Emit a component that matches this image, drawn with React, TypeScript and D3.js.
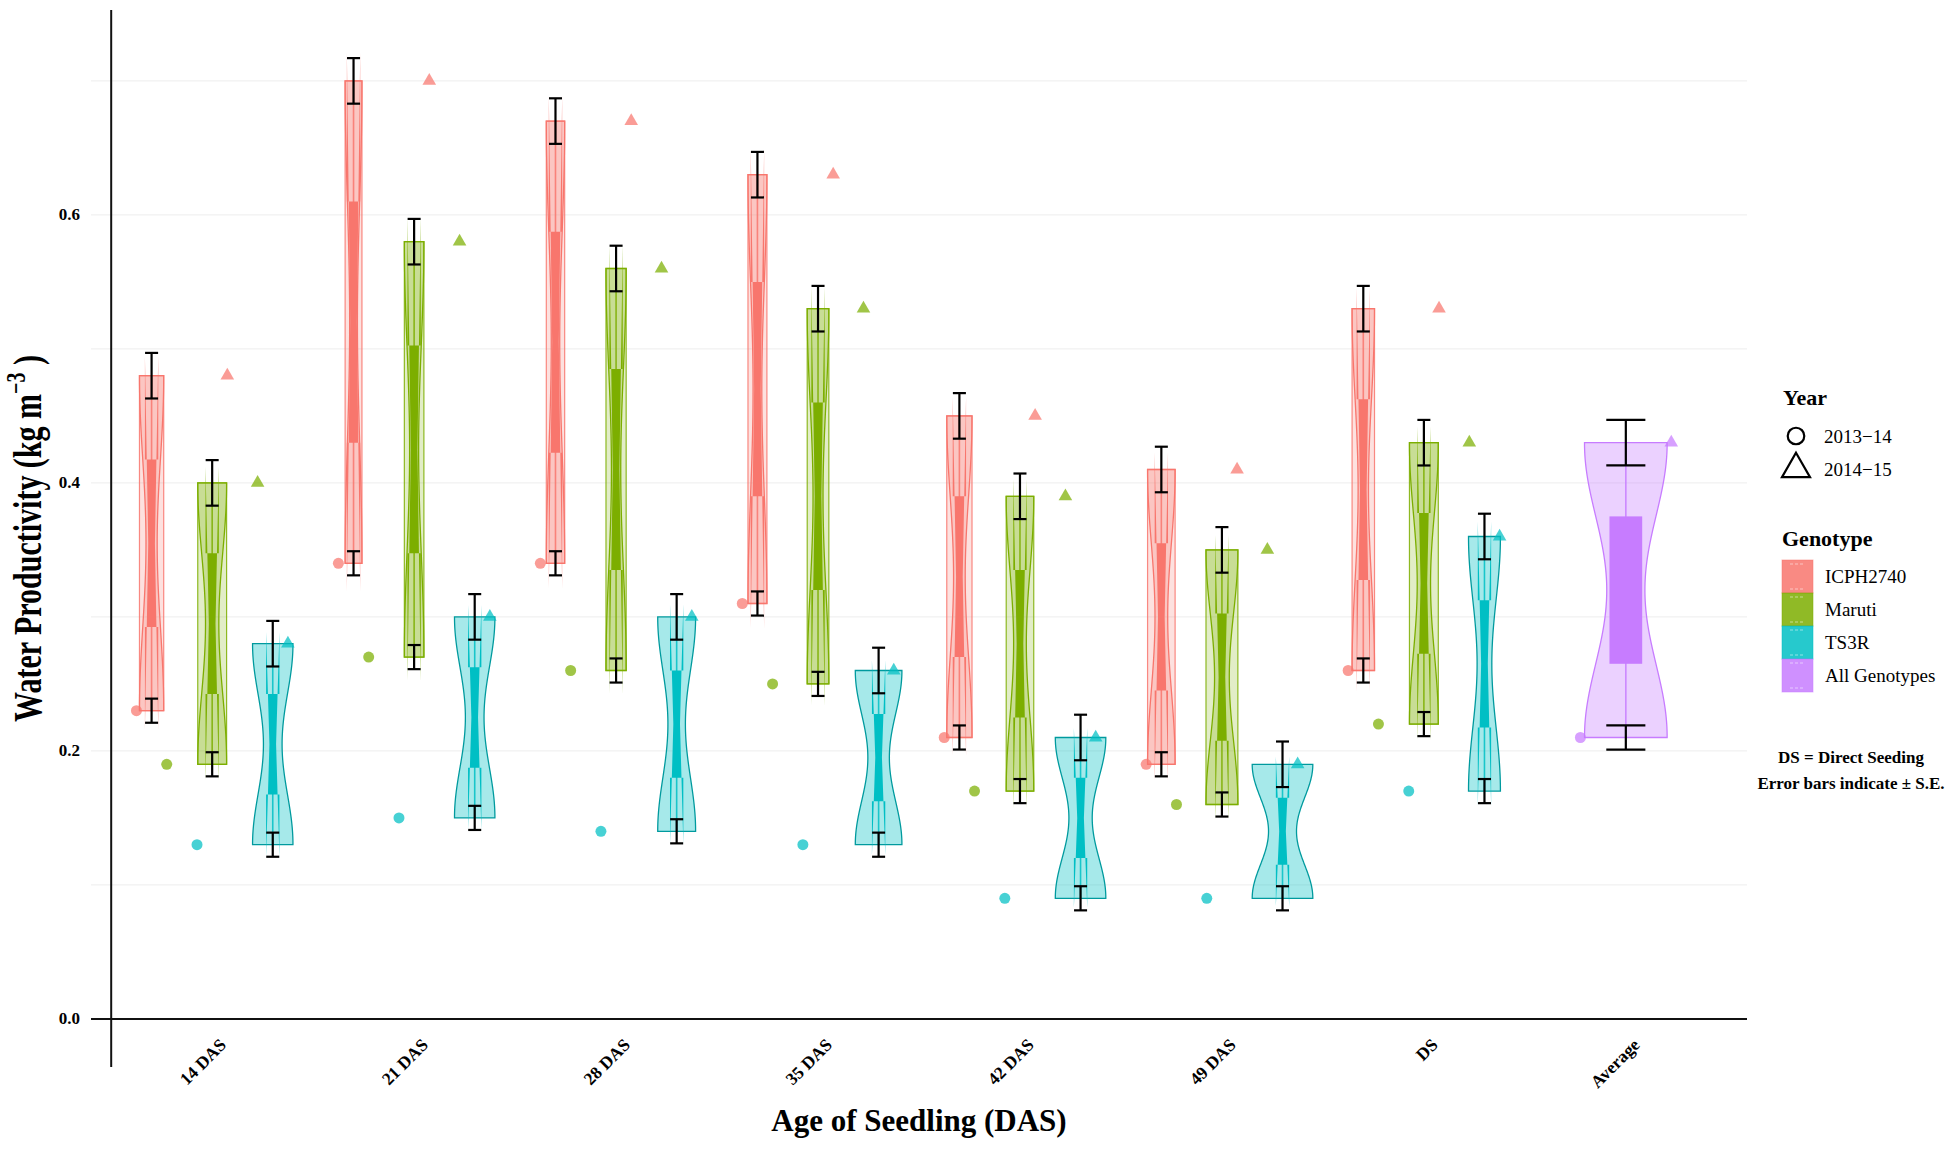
import React, { useEffect, useRef } from 'react';
import * as d3 from 'd3';

// categories on the x axis
const categories = ['14 DAS', '21 DAS', '28 DAS', '35 DAS', '42 DAS', '49 DAS', 'DS', 'Average'];
const genotypes = ['ICPH2740', 'Maruti', 'TS3R', 'All Genotypes'];
const years = ['2013\u221214', '2014\u221215'];

// water productivity (kg m^-3), one value per DAS category
const icph2013 = [0.23, 0.34, 0.34, 0.31, 0.21, 0.19, 0.26];
const icph2014 = [0.48, 0.70, 0.67, 0.63, 0.45, 0.41, 0.53];
const maruti2013 = [0.19, 0.27, 0.26, 0.25, 0.17, 0.16, 0.22];
const maruti2014 = [0.40, 0.58, 0.56, 0.53, 0.39, 0.35, 0.43];
const ts3r2013 = [0.13, 0.15, 0.14, 0.13, 0.09, 0.09, 0.17];
const ts3r2014 = [0.28, 0.30, 0.30, 0.26, 0.21, 0.19, 0.36];
const allGenotypes2013 = [0.21];
const allGenotypes2014 = [0.43];

// standard errors by year (2013-14, 2014-15)
const seByYear = [0.009, 0.017];

const yTicks = [0, 0.2, 0.4, 0.6];
const gridTicks = [0.1, 0.2, 0.3, 0.4, 0.5, 0.6, 0.7];
const colors = ['#F8766D', '#7CAE00', '#00BFC4', '#C77CFF'];

const FONT = "'Liberation Serif', 'Times New Roman', serif";

interface Box {
  ci: number;
  gi: number;
  slot: number;
  n: number;
  vals: number[];
}

const gauss = (u: number) => Math.exp(-0.5 * u * u) / Math.sqrt(2 * Math.PI);

// R's bw.nrd0
const nrd0 = (v: number[]) => {
  const s = v.slice().sort(d3.ascending);
  const sd = d3.deviation(s)!;
  const iqr = d3.quantile(s, 0.75)! - d3.quantile(s, 0.25)!;
  return 0.9 * Math.min(sd, iqr / 1.34) * Math.pow(s.length, -0.2);
};

const App: React.FC = () => {
  const ref = useRef<SVGSVGElement>(null);

  useEffect(() => {
    if (!ref.current) return;
    const svg = d3.select(ref.current);
    svg.selectAll('*').remove();

    const x = d3.scaleLinear().domain([0.4, 8.6]).range([91, 1747]);
    const y = d3.scaleLinear().domain([-0.0359, 0.7529]).range([1067, 10]);
    const step = x(2) - x(1);
    const groupW = 0.9 * step;

    const lo2013 = [icph2013, maruti2013, ts3r2013];
    const hi2014 = [icph2014, maruti2014, ts3r2014];
    const boxes: Box[] = [];
    categories.forEach((_, ci) => {
      if (ci < 7) {
        [0, 1, 2].forEach(gi =>
          boxes.push({ ci, gi, slot: gi, n: 3, vals: [lo2013[gi][ci], hi2014[gi][ci]] }));
      } else {
        boxes.push({ ci, gi: 3, slot: 0, n: 1, vals: [allGenotypes2013[0], allGenotypes2014[0]] });
      }
    });

    // violin densities
    const dens = boxes.map(b => {
      const bw = nrd0(b.vals);
      const [mn, mx] = d3.extent(b.vals) as [number, number];
      return d3.range(512).map(k => {
        const v = mn + (mx - mn) * k / 511;
        const d = d3.mean(b.vals, p => gauss((v - p) / bw) / bw)!;
        return { v, d };
      });
    });
    const globalMax = d3.max(dens, ds => d3.max(ds, p => p.d))!;

    // grid
    const g = svg.append('g');
    g.selectAll('.grid').data(gridTicks).enter().append('line')
      .attr('x1', x(0.4)).attr('x2', x(8.6))
      .attr('y1', d => y(d)).attr('y2', d => y(d))
      .attr('stroke', '#ededed').attr('stroke-width', 1);

    g.append('line')
      .attr('x1', x(0.4)).attr('x2', x(8.6))
      .attr('y1', y(0)).attr('y2', y(0))
      .attr('stroke', '#111').attr('stroke-width', 2);
    g.append('line')
      .attr('x1', x(0.5)).attr('x2', x(0.5))
      .attr('y1', y.range()[1]).attr('y2', y.range()[0])
      .attr('stroke', '#111').attr('stroke-width', 2);

    // y tick labels
    g.selectAll('.ytl').data(yTicks).enter().append('text')
      .attr('x', x(0.4) - 11).attr('y', d => y(d))
      .attr('text-anchor', 'end').attr('dominant-baseline', 'central')
      .attr('font-family', FONT).attr('font-weight', 'bold').attr('font-size', 17)
      .text(d => d3.format('.1f')(d));

    // x tick labels
    g.selectAll('.xtl').data(categories).enter().append('text')
      .attr('transform', (_, i) => `translate(${x(i + 1) + 15},${y(0) + 27}) rotate(-45)`)
      .attr('text-anchor', 'end')
      .attr('font-family', FONT).attr('font-weight', 'bold').attr('font-size', 17.5)
      .text(d => d);

    const layer = svg.append('g');

    boxes.forEach((b, bi) => {
      const c = colors[b.gi];
      const slotW = groupW / b.n;
      const bx = x(b.ci + 1) - groupW / 2 + slotW * (b.slot + 0.5);
      const ds = dens[bi];
      const [mn, mx] = d3.extent(b.vals) as [number, number];
      const hwMax = d3.max(ds, p => p.d)! / globalMax * slotW / 2;

      if (b.gi < 2) {
        layer.append('rect')
          .attr('x', bx - hwMax).attr('width', 2 * hwMax)
          .attr('y', y(mx)).attr('height', y(mn) - y(mx))
          .attr('fill', c).attr('fill-opacity', 0.22)
          .attr('stroke', c).attr('stroke-opacity', 0.85).attr('stroke-width', 1.2);
      }

      const area = d3.area<{ v: number; d: number }>()
        .y(p => y(p.v))
        .x0(p => bx - p.d / globalMax * slotW / 2)
        .x1(p => bx + p.d / globalMax * slotW / 2);
      layer.append('path')
        .attr('d', area(ds)!)
        .attr('fill', c).attr('fill-opacity', b.gi < 2 ? 0.25 : 0.35)
        .attr('stroke', b.gi === 2 ? d3.color(c)!.darker(0.6).toString() : c)
        .attr('stroke-width', 1.3);

      // whisker
      layer.append('line')
        .attr('x1', bx).attr('x2', bx).attr('y1', y(mn)).attr('y2', y(mx))
        .attr('stroke', c).attr('stroke-width', 1.6).attr('stroke-opacity', 0.85);

      // box (notched as in ggplot)
      const s = b.vals.slice().sort(d3.ascending);
      const q1 = d3.quantile(s, 0.25)!, q3 = d3.quantile(s, 0.75)!, med = d3.median(s)!;
      const w = 0.22 * slotW;
      const xmin = bx - w / 2, xmax = bx + w / 2;
      if (b.gi < 3) {
        const nu = med + 1.58 * (q3 - q1) / Math.sqrt(s.length);
        const nl = med - 1.58 * (q3 - q1) / Math.sqrt(s.length);
        const ind = w * 0.25;
        const pts: [number, number][] = [
          [xmin, q3], [xmin, nu], [xmin + ind, med], [xmin, nl], [xmin, q1],
          [xmax, q1], [xmax, nl], [xmax - ind, med], [xmax, nu], [xmax, q3],
        ];
        layer.append('path')
          .attr('d', d3.line<[number, number]>().x(p => p[0]).y(p => y(p[1]))(pts) + 'Z')
          .attr('fill', c);
      } else {
        layer.append('rect')
          .attr('x', bx - 0.18 * slotW / 2).attr('width', 0.18 * slotW)
          .attr('y', y(q3)).attr('height', y(q1) - y(q3))
          .attr('fill', c);
      }
    });

    // points by year
    boxes.forEach(b => {
      const c = colors[b.gi];
      const pw = groupW / (2 * b.n);
      b.vals.forEach((v, yi) => {
        const px = x(b.ci + 1) - groupW / 2 + pw * (yi * b.n + b.slot + 0.5);
        const sym = d3.symbol(yi === 0 ? d3.symbolCircle : d3.symbolTriangle, yi === 0 ? 95 : 80);
        layer.append('path')
          .attr('d', sym()!)
          .attr('transform', `translate(${px},${y(v)})`)
          .attr('fill', c).attr('fill-opacity', 0.72);
      });
    });

    // error bars
    boxes.forEach(b => {
      const slotW = groupW / b.n;
      const bx = x(b.ci + 1) - groupW / 2 + slotW * (b.slot + 0.5);
      const cw = 0.215 * slotW / 2;
      b.vals.forEach((v, yi) => {
        const se = seByYear[yi];
        const eg = layer.append('g').attr('stroke', '#000').attr('stroke-width', 2.2);
        eg.append('line').attr('x1', bx).attr('x2', bx).attr('y1', y(v - se)).attr('y2', y(v + se));
        eg.append('line').attr('x1', bx - cw).attr('x2', bx + cw).attr('y1', y(v - se)).attr('y2', y(v - se));
        eg.append('line').attr('x1', bx - cw).attr('x2', bx + cw).attr('y1', y(v + se)).attr('y2', y(v + se));
      });
    });

    // axis titles
    svg.append('text')
      .attr('x', (x(0.4) + x(8.6)) / 2).attr('y', 1131)
      .attr('text-anchor', 'middle')
      .attr('font-family', FONT).attr('font-weight', 'bold').attr('font-size', 31)
      .text('Age of Seedling (DAS)');

    const yt = svg.append('text')
      .attr('transform', `translate(41,${(y.range()[0] + y.range()[1]) / 2}) rotate(-90) scale(1,1.35)`)
      .attr('text-anchor', 'middle')
      .attr('font-family', FONT).attr('font-weight', 'bold').attr('font-size', 30);
    yt.append('tspan').text('Water Productivity (kg m');
    yt.append('tspan').attr('font-size', 20).attr('dy', -12).text('\u22123');
    yt.append('tspan').attr('dy', 12).text(' )');

    // legend
    const lg = svg.append('g').attr('font-family', FONT);
    lg.append('text').attr('x', 1783).attr('y', 405)
      .attr('font-weight', 'bold').attr('font-size', 22).text('Year');
    years.forEach((yr, yi) => {
      const cy = 436 + yi * 33;
      const sym = d3.symbol(yi === 0 ? d3.symbolCircle : d3.symbolTriangle, yi === 0 ? 215 : 340);
      lg.append('path').attr('d', sym()!)
        .attr('transform', `translate(1796,${cy})`)
        .attr('fill', 'none').attr('stroke', '#000').attr('stroke-width', 2.2);
      lg.append('text').attr('x', 1824).attr('y', cy)
        .attr('dominant-baseline', 'central').attr('font-size', 19).text(yr);
    });

    lg.append('text').attr('x', 1782).attr('y', 546)
      .attr('font-weight', 'bold').attr('font-size', 22).text('Genotype');
    genotypes.forEach((gn, gi) => {
      const ky = 560 + gi * 33;
      lg.append('rect').attr('x', 1782).attr('y', ky).attr('width', 31).attr('height', 33)
        .attr('fill', colors[gi]).attr('fill-opacity', 0.85)
        .attr('stroke', colors[gi]).attr('stroke-opacity', 0.5);
      lg.append('line').attr('x1', 1790).attr('x2', 1805).attr('y1', ky + 4).attr('y2', ky + 4)
        .attr('stroke', '#fff').attr('stroke-opacity', 0.5).attr('stroke-dasharray', '3,2');
      lg.append('line').attr('x1', 1790).attr('x2', 1805).attr('y1', ky + 29).attr('y2', ky + 29)
        .attr('stroke', '#fff').attr('stroke-opacity', 0.5).attr('stroke-dasharray', '3,2');
      lg.append('text').attr('x', 1825).attr('y', ky + 16.5)
        .attr('dominant-baseline', 'central').attr('font-size', 19).text(gn);
    });

    lg.append('text').attr('x', 1851).attr('y', 763)
      .attr('text-anchor', 'middle').attr('font-weight', 'bold').attr('font-size', 17)
      .text('DS = Direct Seeding');
    lg.append('text').attr('x', 1851).attr('y', 789)
      .attr('text-anchor', 'middle').attr('font-weight', 'bold').attr('font-size', 17)
      .text('Error bars indicate \u00b1 S.E.');
  }, []);

  return (
    <svg ref={ref} width={1949} height={1157}
      style={{ position: 'absolute', left: 0, top: 0, background: '#fff' }} />
  );
};

export default App;
